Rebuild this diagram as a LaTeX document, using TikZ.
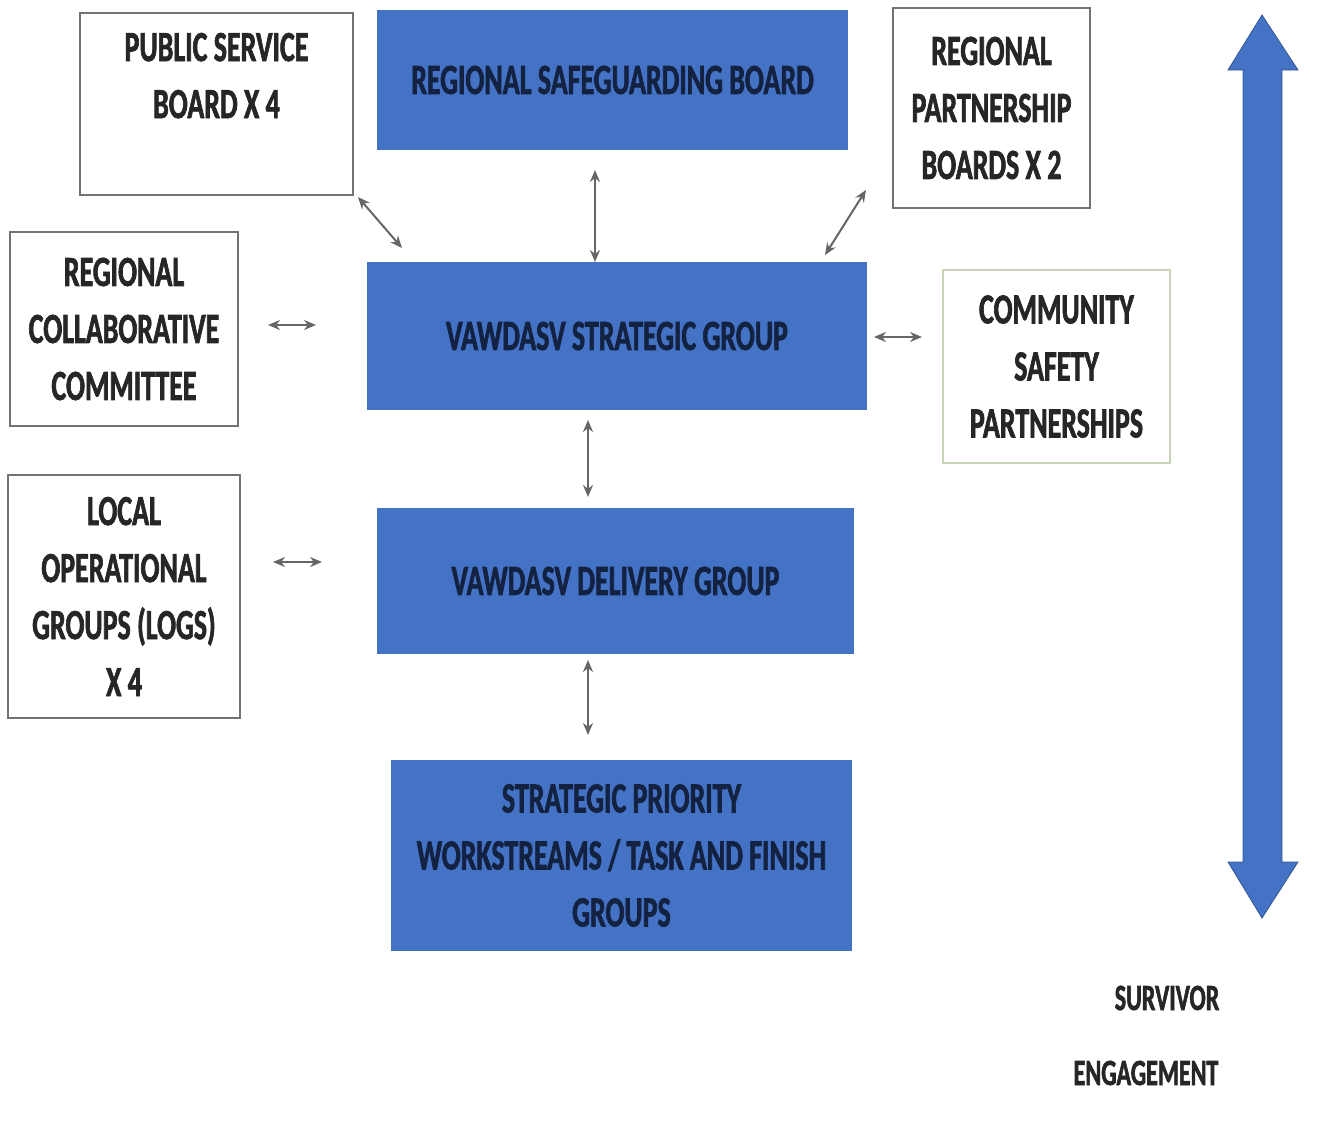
\documentclass[tikz,border=0pt]{standalone}
\usepackage{fontspec}
\setmainfont{Carlito}[FakeStretch=0.65, BoldFeatures={FakeBold=1.5}]
\usetikzlibrary{positioning,arrows.meta}
\definecolor{boardblue}{HTML}{4472C4}
\definecolor{inkblue}{HTML}{132241}
\definecolor{paleline}{HTML}{C8D4B8}

\begin{document}
\begin{tikzpicture}[
    x=1pt, y=-1pt,
 boxtext/.style = {font=\fontsize{43}{57}\selectfont\bfseries, align=center,
        inner sep=0pt, outer sep=0pt, anchor=north west},
 bluebox/.style = {boxtext, fill=boardblue, text=inkblue},
whitebox/.style = {boxtext, draw=black!55, line width=1.5pt, fill=white, text=black!85},
    link/.style = {black!60, line width=2pt,
        {Stealth[length=12pt,width=10pt]}-{Stealth[length=12pt,width=10pt]}},
 sidetext/.style = {font=\fontsize{37}{45}\selectfont\bfseries, text=black!85,
        inner sep=0pt}
                    ]
\useasboundingbox (0,0) rectangle (1318,1138);
% the central column
\node (rsb) [bluebox, minimum width=471pt, minimum height=140pt] at (377,10)
            {REGIONAL SAFEGUARDING BOARD};
\node (vsg) [bluebox, minimum width=500pt, minimum height=148pt] at (367,262)
            {VAWDASV STRATEGIC GROUP};
\node (vdg) [bluebox, minimum width=477pt, minimum height=146pt] at (377,508)
            {VAWDASV DELIVERY GROUP};
\node (wsg) [bluebox, minimum width=461pt, minimum height=191pt] at (391,760)
            {STRATEGIC PRIORITY\\
             WORKSTREAMS / TASK AND FINISH\\
             GROUPS};
% the boxes round it
\node (psb) [whitebox, minimum width=273pt, minimum height=182pt] at (80,13)
            {PUBLIC SERVICE\\
             BOARD X 4\\ ~};
\node (rpb) [whitebox, minimum width=197pt, minimum height=200pt] at (893,8)
            {REGIONAL\\
             PARTNERSHIP\\
             BOARDS X 2};
\node (rcc) [whitebox, minimum width=228pt, minimum height=194pt] at (10,232)
            {REGIONAL\\
             COLLABORATIVE\\
             COMMITTEE};
\node (csp) [whitebox, draw=paleline, minimum width=227pt, minimum height=193pt] at (943,270)
            {COMMUNITY\\
             SAFETY\\
             PARTNERSHIPS};
\node (log) [whitebox, minimum width=232pt, minimum height=243pt] at (8,475)
            {LOCAL\\
             OPERATIONAL\\
             GROUPS (LOGS)\\
             X 4};
% the links
\draw[link] ([shift={(5,2)}]psb.south east) -- ([shift={(35,-14)}]vsg.north west);
\draw[link] ([shift={(-17.5,20)}]rsb.south) -- ([shift={(-22,0)}]vsg.north);
\draw[link] ([shift={(-27,-18)}]rpb.south west) -- ([shift={(-42,-7)}]vsg.north east);
\draw[link] ([shift={(30,-4)}]rcc.east) -- ([shift={(-51,-11)}]vsg.west);
\draw[link] ([shift={(7,1)}]vsg.east) -- ([shift={(-21,-29.5)}]csp.west);
\draw[link] ([shift={(33,-34.5)}]log.east) -- ([shift={(-55,-19)}]vdg.west);
\draw[link] ([shift={(-29,10)}]vsg.south) -- ([shift={(-27.5,-11)}]vdg.north);
\draw[link] ([shift={(-27.5,6)}]vdg.south) -- ([shift={(-33.5,-25)}]wsg.north);

% the survivor arrow on the right
\filldraw[fill=boardblue, draw=boardblue!75!black, line width=0.8pt]
    (1262,15) -- (1298,70) -- (1282,70) -- (1282,862) -- (1298,862)
    -- (1262,918) -- (1228,862) -- (1243,862) -- (1243,70) -- (1228,70) -- cycle;
\node (sur) [sidetext] at (1167,998) {SURVIVOR};
\node (eng) [sidetext] at (1146,1073) {ENGAGEMENT};
\end{tikzpicture}
\end{document}
